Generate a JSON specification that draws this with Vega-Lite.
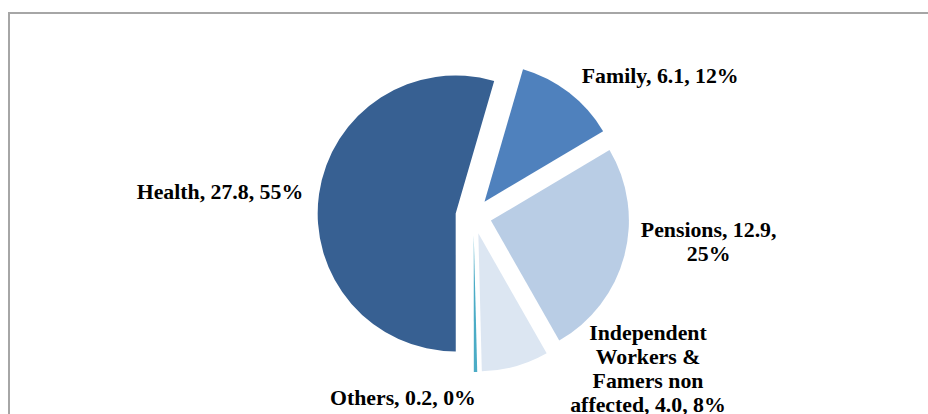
{
  "$schema": "https://vega.github.io/schema/vega-lite/v6.json",
  "width": 929,
  "height": 406,
  "autosize": {"type": "none"},
  "padding": {"left": 9, "top": 13, "right": -10, "bottom": -5},
  "background": "white",
  "view": {"stroke": "#a6a6a6", "strokeWidth": 2, "fill": "white"},
  "config": {
    "text": {"font": "Liberation Serif", "fontWeight": "bold", "fontSize": 21.8, "lineHeight": 24.3, "lineBreak": "\n"}
  },
  "data": {
    "values": [
      {"category": "Family", "value": 6.1, "order": 1, "label": "Family, 6.1, 12%"},
      {"category": "Pensions", "value": 12.9, "order": 2, "label": "Pensions, 12.9,\n25%"},
      {"category": "Independent Workers & Famers non affected", "value": 4.0, "order": 3, "label": "Independent\nWorkers &\nFamers non\naffected, 4.0, 8%"},
      {"category": "Others", "value": 0.2, "order": 4, "label": "Others, 0.2, 0%"},
      {"category": "Health", "value": 27.8, "order": 5, "label": "Health, 27.8, 55%"}
    ]
  },
  "encoding": {
    "theta": {"field": "value", "type": "quantitative", "stack": true, "scale": {"range": [0.2827, 6.5659]}},
    "order": {"field": "order", "type": "quantitative"}
  },
  "layer": [
    {
      "mark": {
        "type": "arc",
        "outerRadius": 138,
        "xOffset": {"expr": "18*sin(scale('theta', (datum.value_start + datum.value_end) / 2))"},
        "yOffset": {"expr": "-18*cos(scale('theta', (datum.value_start + datum.value_end) / 2))"}
      },
      "encoding": {
        "color": {
          "field": "category",
          "type": "nominal",
          "scale": {
            "domain": ["Family", "Pensions", "Independent Workers & Famers non affected", "Others", "Health"],
            "range": ["#4f81bd", "#b9cde5", "#dce6f2", "#4bacc6", "#376092"]
          },
          "legend": null
        }
      }
    },
    {
      "mark": {"type": "text", "radius": 172, "align": "right", "baseline": "middle", "color": "black"},
      "encoding": {
        "text": {"condition": {"test": "datum.category === 'Health'", "field": "label"}, "value": ""}
      }
    },
    {
      "mark": {"type": "text", "radius": 182, "align": "right", "baseline": "middle", "color": "black"},
      "encoding": {
        "text": {"condition": {"test": "datum.category === 'Others'", "field": "label"}, "value": ""}
      }
    },
    {
      "mark": {"type": "text", "radius": 177, "align": "left", "baseline": "middle", "color": "black"},
      "encoding": {
        "text": {"condition": {"test": "datum.category === 'Family'", "field": "label"}, "value": ""}
      }
    },
    {
      "mark": {"type": "text", "radius": 177, "align": "center", "baseline": "middle", "dx": 64, "dy": -31, "color": "black"},
      "encoding": {
        "text": {"condition": {"test": "datum.category === 'Pensions'", "field": "label"}, "value": ""}
      }
    },
    {
      "mark": {"type": "text", "radius": 177, "align": "center", "baseline": "middle", "dx": 127, "dy": -54, "color": "black"},
      "encoding": {
        "text": {"condition": {"test": "datum.category === 'Independent Workers & Famers non affected'", "field": "label"}, "value": ""}
      }
    }
  ]
}
